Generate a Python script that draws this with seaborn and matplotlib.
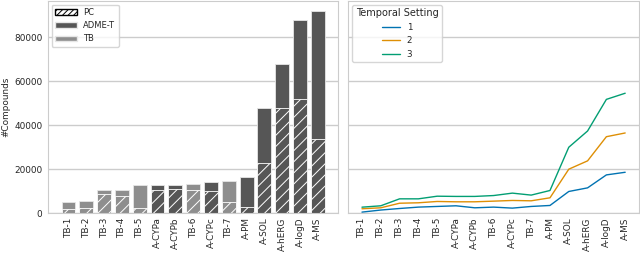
import matplotlib
matplotlib.use("Agg")
import matplotlib.pyplot as plt
import seaborn as sns
import pandas as pd
from matplotlib.patches import Patch

categories = ["TB-1", "TB-2", "TB-3", "TB-4", "TB-5", "A-CYPa", "A-CYPb", "TB-6",
              "A-CYPc", "TB-7", "A-PM", "A-SOL", "A-hERG", "A-logD", "A-MS"]
groups = ["TB", "TB", "TB", "TB", "TB", "ADME-T", "ADME-T", "TB",
          "ADME-T", "TB", "ADME-T", "ADME-T", "ADME-T", "ADME-T", "ADME-T"]
total = [5150, 5450, 10450, 10600, 12580, 12880, 12880, 13330,
         14240, 14700, 16500, 47700, 67900, 88000, 92000]
pc = [1970, 2270, 8640, 7580, 2270, 10600, 10900, 10600,
      10000, 5000, 2600, 23000, 47900, 52000, 33600]

setting1 = [450, 1400, 2100, 2730, 3030, 3330, 2420, 2730, 2270, 3030, 3480, 9850, 11500, 17400, 18600]
setting2 = [1970, 2420, 4500, 4700, 5300, 5150, 5150, 5450, 5760, 5600, 6970, 20000, 23800, 34800, 36500]
setting3 = [2700, 3330, 6500, 6500, 7700, 7600, 7600, 8000, 9100, 8200, 10300, 30000, 37400, 51800, 54600]
settings = ["1", "2", "3"]

sns.set_theme(style="whitegrid")
plt.rcParams["font.family"] = ["DejaVu Sans"]
plt.rcParams["hatch.linewidth"] = 0.7

bar_df = pd.DataFrame({"Dataset": categories, "Group": groups, "Total": total, "PC": pc})
line_df = pd.DataFrame({
    "Dataset": categories * 3,
    "Setting": [s for s in settings for _ in categories],
    "Count": setting1 + setting2 + setting3,
})

colors = {"ADME-T": "#565656", "TB": "#8e8e8e"}

fig, (ax1, ax2) = plt.subplots(1, 2, figsize=(6.4, 2.54), dpi=100, sharey=True)
fig.subplots_adjust(left=0.075, right=0.998, top=0.996, bottom=0.161, wspace=0.035)

sns.barplot(data=bar_df, x="Dataset", y="Total", hue="Group", palette=colors,
            dodge=False, width=0.78, edgecolor="#e6e6e6", linewidth=0.6,
            legend=False, ax=ax1, order=categories)
sns.barplot(data=bar_df, x="Dataset", y="PC", hue="Group", palette=colors,
            dodge=False, width=0.78, edgecolor="white", linewidth=0.6, hatch="///",
            legend=False, ax=ax1, order=categories)
ax1.set_xlim(-1.15, len(categories) + 0.15)
ax1.set_ylim(0, 96600)
ax1.set_xlabel("")
ax1.set_ylabel("#Compounds", fontsize=6.4, labelpad=3)
ax1.set_yticks([0, 20000, 40000, 60000, 80000])
ax1.tick_params(axis="x", labelrotation=90, labelsize=6.4, pad=3, length=0)
ax1.tick_params(axis="y", labelsize=6.4, pad=4, length=0)
ax1.grid(axis="x", visible=False)

handles = [Patch(facecolor="white", edgecolor="black", hatch="//////", label="PC"),
           Patch(facecolor=colors["ADME-T"], edgecolor="#e6e6e6", label="ADME-T"),
           Patch(facecolor=colors["TB"], edgecolor="#e6e6e6", label="TB")]
ax1.legend(handles=handles, loc="upper left", fontsize=6.0, frameon=True,
           borderaxespad=0.45, handlelength=2.6)

sns.lineplot(data=line_df, x="Dataset", y="Count", hue="Setting",
             palette=sns.color_palette("colorblind", 3), linewidth=1.0,
             sort=False, ax=ax2)
ax2.set_xlim(-0.72, len(categories) - 1 + 0.72)
ax2.set_xlabel("")
ax2.set_ylabel("")
ax2.tick_params(axis="x", labelrotation=90, labelsize=6.4, pad=3, length=0)
ax2.tick_params(axis="y", labelleft=False, length=0)
ax2.grid(axis="x", visible=False)
leg = ax2.legend(title="Temporal Setting", loc="upper left", fontsize=6.3,
                 title_fontsize=7.0, borderaxespad=0.45)

for ax in (ax1, ax2):
    for s in ax.spines.values():
        s.set_edgecolor("#cccccc")
        s.set_linewidth(0.8)

fig.savefig("out.png", dpi=100)
